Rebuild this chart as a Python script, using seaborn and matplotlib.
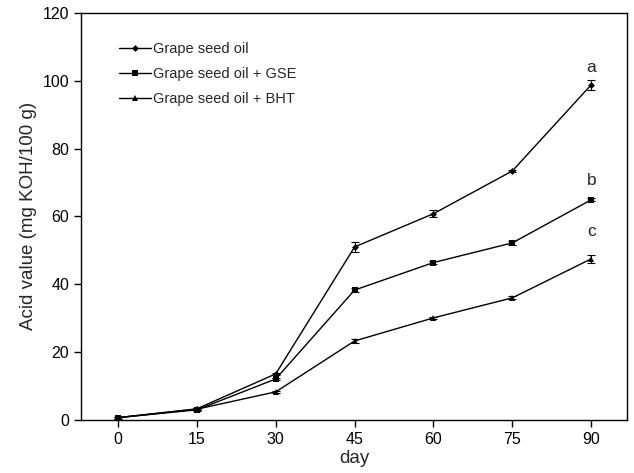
import pandas as pd
import numpy as np
import matplotlib
matplotlib.use("Agg")
import matplotlib.pyplot as plt
import seaborn as sns

# Data
days = [0, 15, 30, 45, 60, 75, 90]
series_names = ["Grape seed oil", "Grape seed oil + GSE", "Grape seed oil + BHT"]
oil = [0.7, 3.3, 13.6, 51.0, 60.8, 73.4, 98.8]
oil_err = [0.3, 0.3, 0.4, 1.5, 1.0, 0.4, 1.5]
gse = [0.7, 3.0, 12.1, 38.3, 46.4, 52.2, 64.9]
gse_err = [0.3, 0.3, 0.4, 0.5, 0.4, 0.5, 0.5]
bht = [0.7, 3.2, 8.3, 23.3, 30.1, 36.0, 47.5]
bht_err = [0.3, 0.3, 0.3, 0.6, 0.4, 0.4, 1.2]
letters = ["a", "b", "c"]
letter_y = [104, 70.5, 55.5]

sns.set_style("ticks")
plt.rcParams['font.family'] = ['Liberation Sans', 'DejaVu Sans']

# long format table for seaborn
df = pd.DataFrame({
    'day': days * 3,
    'value': oil + gse + bht,
    'err': oil_err + gse_err + bht_err,
    'group': [n for n in series_names for _ in days],
})

fig = plt.figure(figsize=(6.34, 4.73), dpi=100)
ax = fig.add_axes([0.128, 0.112, 0.861, 0.861])

markers = {series_names[0]: 'D', series_names[1]: 's', series_names[2]: '^'}
sizes = [3.5, 5, 5]

sns.lineplot(data=df, x='day', y='value', hue='group', style='group',
             markers=markers, dashes=False, palette=['black'] * 3,
             markersize=5, linewidth=1, markeredgewidth=0, ax=ax)

# marker sizes per series
for line, sz in zip(ax.get_lines(), sizes):
    line.set_markersize(sz)

# error bars
for name in series_names:
    sub = df[df['group'] == name]
    ax.errorbar(sub['day'], sub['value'], yerr=sub['err'], fmt='none',
                ecolor='black', elinewidth=0.8, capsize=3, capthick=0.8)

# significance letters
for letter, y in zip(letters, letter_y):
    ax.text(days[-1], y, letter, ha='center', va='center', fontsize=12.5)

ax.set_xlim(-7, 96.8)
ax.set_ylim(0, 120)
ax.set_xticks(days)
ax.set_yticks(range(0, 121, 20))
ax.tick_params(direction='out', length=5, width=1, labelsize=11.5, colors='black')
for s in ax.spines.values():
    s.set_linewidth(1)
    s.set_color('black')

ax.set_xlabel("day", fontsize=13.5, labelpad=2)
ax.set_ylabel("Acid value (mg KOH/100 g)", fontsize=13.5)

leg = ax.legend(loc='upper left', bbox_to_anchor=(0.045, 0.96), frameon=False,
                fontsize=10.5, handlelength=2.2, handletextpad=0.15,
                labelspacing=0.75)
for h, sz in zip(leg.get_lines(), [3.5, 5, 4]):
    h.set_markersize(sz)

plt.savefig("out.png", dpi=100)
